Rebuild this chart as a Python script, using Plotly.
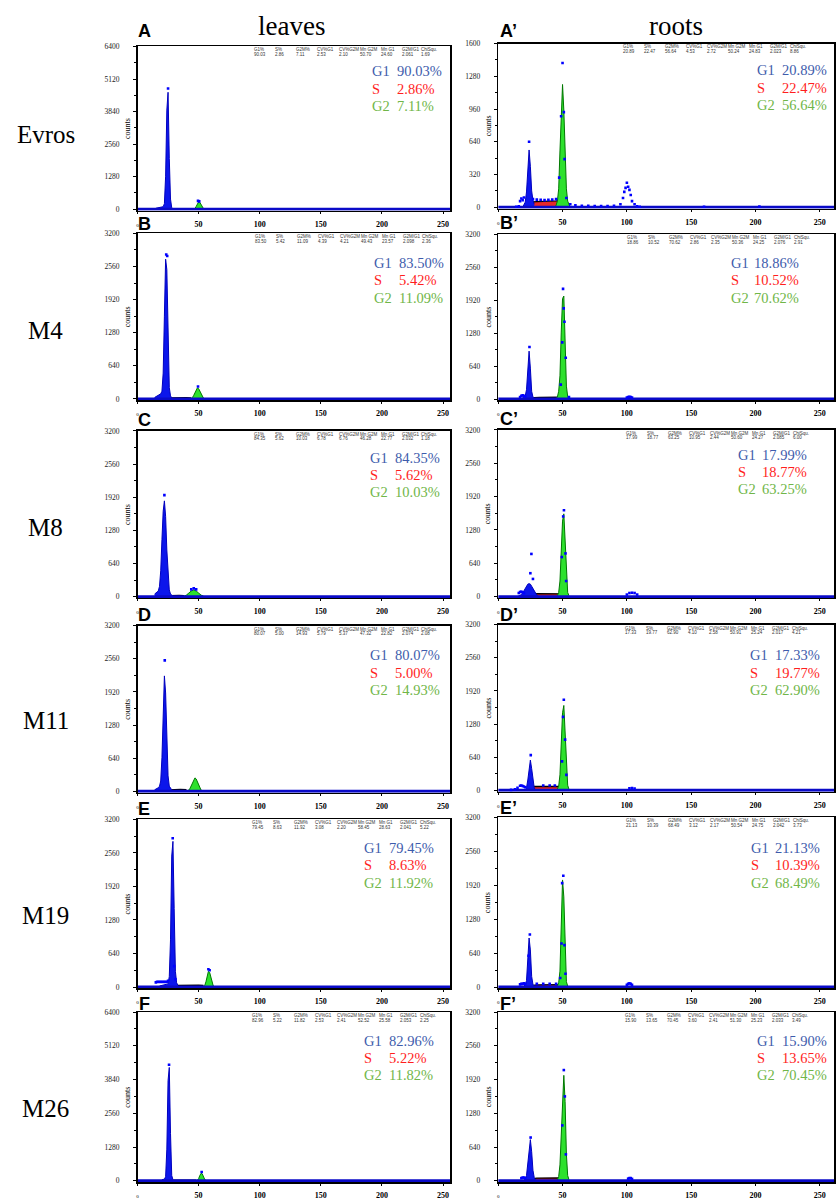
import plotly.graph_objects as go

W, H = 836, 1200

# ---------------- text / categories ----------------
row_labels = ["Evros", "M4", "M8", "M11", "M19", "M26"]
col_titles = ["leaves", "roots"]
letters_left = ["A", "B", "C", "D", "E", "F"]
letters_right = ["A\u2019", "B\u2019", "C\u2019", "D\u2019", "E\u2019", "F\u2019"]
stat_headers = ["G1%", "S%", "G2M%", "CV%G1", "CV%G2M", "Mn G2M", "Mn G1", "G2M/G1", "ChiSqu."]
x_tick_vals = [0, 50, 100, 150, 200, 250]
ymax_left = [6400, 3200, 3200, 3200, 3200, 6400]
ymax_right = [1600, 3200, 3200, 3200, 3200, 3200]

# ---------------- stats table values (per panel) ----------------
stats_A = ["90.03", "2.86", "7.11", "2.53", "2.10", "50.70", "24.60", "2.061", "1.69"]
stats_B = ["83.50", "5.42", "11.09", "4.39", "4.21", "49.43", "23.57", "2.098", "2.36"]
stats_C = ["84.35", "5.62", "10.03", "6.78", "6.76", "46.28", "22.77", "2.032", "1.18"]
stats_D = ["80.07", "5.00", "14.93", "5.79", "5.37", "47.32", "22.82", "2.074", "2.08"]
stats_E = ["79.45", "8.63", "11.92", "3.08", "2.20", "58.45", "28.63", "2.041", "5.22"]
stats_F = ["82.96", "5.22", "11.82", "2.53", "2.41", "52.52", "25.58", "2.053", "2.25"]
stats_Ap = ["20.89", "22.47", "56.64", "4.53", "2.72", "50.24", "24.83", "2.023", "8.86"]
stats_Bp = ["18.86", "10.52", "70.62", "2.86", "2.35", "50.36", "24.25", "2.076", "2.91"]
stats_Cp = ["17.99", "18.77", "63.25", "10.95", "2.44", "50.60", "24.27", "2.085", "6.00"]
stats_Dp = ["17.33", "19.77", "62.90", "4.10", "2.58", "50.91", "25.24", "2.017", "4.21"]
stats_Ep = ["21.13", "10.39", "68.49", "3.12", "2.17", "50.54", "24.75", "2.042", "3.73"]
stats_Fp = ["15.90", "13.65", "70.45", "3.60", "2.41", "51.30", "25.23", "2.033", "3.49"]

# ---------------- histogram readings (channel, counts) ----------------
floor_ch = [0, 262]
floor_n = [0, 0]

# A  leaves Evros
A_g1_ch = [15, 18, 20, 21, 22, 23, 24, 25, 26, 27, 28, 29]
A_g1_n = [40, 80, 90, 100, 220, 1300, 3900, 4600, 2000, 400, 60, 20]
A_s_ch = [26, 30, 35, 40, 45, 48]
A_s_n = [15, 20, 20, 20, 20, 15]
A_g2_ch = [46, 47, 48, 49, 50, 51, 52, 53, 54, 55]
A_g2_n = [10, 30, 110, 230, 290, 270, 180, 80, 25, 5]
A_dot_ch = [25, 49.5, 50.5]
A_dot_n = [4750, 330, 310]

# B  leaves M4
B_g1_ch = [14, 16, 18, 19, 20, 21, 22, 23, 24, 25, 26, 27, 28]
B_g1_n = [30, 60, 80, 100, 150, 500, 1600, 2700, 2500, 900, 220, 60, 20]
B_s_ch = [26, 30, 35, 40, 44]
B_s_n = [20, 25, 25, 25, 20]
B_g2_ch = [44, 45, 46, 47, 48, 49, 50, 51, 52, 53, 54, 55]
B_g2_n = [10, 30, 70, 130, 190, 215, 200, 150, 90, 40, 15, 5]
B_dot_ch = [23.5, 24.3, 49.5]
B_dot_n = [2790, 2760, 240]

# C  leaves M8
C_g1_ch = [14, 16, 17, 18, 19, 20, 21, 22, 23, 24, 25, 26, 27, 28, 29]
C_g1_n = [50, 80, 110, 200, 500, 1100, 1650, 1850, 1550, 900, 380, 130, 50, 25, 10]
C_s_ch = [27, 30, 34, 38]
C_s_n = [20, 25, 25, 20]
C_g2_ch = [38, 40, 42, 44, 46, 48, 50, 52, 54]
C_g2_n = [10, 30, 70, 110, 130, 110, 70, 30, 10]
C_dot_ch = [22, 44, 46, 48]
C_dot_n = [1960, 140, 160, 140]

# D  leaves M11
D_g1_ch = [14, 16, 17, 18, 19, 20, 21, 22, 23, 24, 25, 26, 27, 28]
D_g1_n = [30, 50, 70, 100, 200, 650, 1550, 2230, 1900, 900, 300, 100, 50, 30]
D_s_ch = [26, 30, 35, 40]
D_s_n = [30, 40, 40, 35]
D_g2_ch = [41, 42, 43, 44, 45, 46, 47, 48, 49, 50, 51, 52, 53]
D_g2_n = [10, 25, 60, 110, 170, 230, 260, 240, 190, 120, 60, 25, 10]
D_dot_ch = [22.3]
D_dot_n = [2530]

# E  leaves M19
E_g1_ch = [18, 20, 22, 24, 25, 26, 27, 28, 29, 30, 31, 32, 33]
E_g1_n = [20, 30, 40, 50, 60, 200, 900, 2500, 2780, 1500, 300, 80, 40]
E_s_ch = [32, 38, 44, 50, 54]
E_s_n = [30, 35, 35, 35, 30]
E_g2_ch = [54, 55, 56, 57, 58, 59, 60, 61, 62, 63]
E_g2_n = [10, 30, 100, 220, 300, 280, 180, 70, 20, 5]
E_dot_ch = [15, 16, 17, 18, 19, 20, 21, 22, 23, 24, 25, 28.8, 30, 31, 58, 59]
E_dot_n = [90, 100, 95, 100, 95, 100, 95, 100, 95, 100, 120, 2840, 400, 150, 340, 320]

# F  leaves M26
F_g1_ch = [20, 22, 23, 24, 25, 26, 27, 28, 29]
F_g1_n = [40, 60, 150, 1200, 3800, 4300, 1800, 200, 40]
F_s_ch = [28, 35, 42, 48]
F_s_n = [20, 25, 25, 20]
F_g2_ch = [49, 50, 51, 52, 53, 54, 55, 56]
F_g2_n = [20, 80, 200, 280, 260, 150, 50, 10]
F_dot_ch = [25.8, 52.5]
F_dot_n = [4400, 330]

# A'  roots Evros
Ap_g1_ch = [19, 20, 21, 22, 23, 24, 25, 26, 27, 28]
Ap_g1_n = [0, 20, 50, 150, 350, 560, 400, 160, 70, 30]
Ap_s_ch = [21, 23, 25, 27, 30, 35, 40, 45, 48, 50, 52, 54]
Ap_s_n = [0, 10, 35, 52, 55, 55, 58, 62, 65, 55, 25, 0]
Ap_g2_ch = [44, 45, 46, 47, 48, 49, 50, 51, 52, 53, 54, 55, 56]
Ap_g2_n = [0, 20, 60, 180, 550, 1000, 1200, 950, 500, 180, 60, 20, 0]
Ap_dot_ch = [14, 16, 17, 18, 19, 20, 24, 27, 30, 33, 36, 39, 42, 45, 47.4, 48.9, 50, 51, 51.6, 53,
             56, 60, 65, 70, 75, 80, 85, 90, 95, 97, 98, 99, 100, 101, 102, 103, 104, 106, 108, 110, 160, 203]
Ap_dot_n = [5, 10, 60, 85, 70, 95, 640, 80, 75, 72, 70, 72, 75, 80, 290, 890, 1410, 930, 470, 90,
            30, 20, 15, 15, 12, 12, 12, 15, 30, 90, 150, 190, 240, 200, 170, 120, 60, 30, 10, 5, 5, 8]

# B'  roots M4
Bp_g1_ch = [19, 20, 21, 22, 23, 24, 25, 26, 27, 28]
Bp_g1_n = [30, 40, 60, 180, 620, 930, 600, 150, 40, 20]
Bp_s_ch = [25, 28, 32, 36, 40, 44, 47, 49]
Bp_s_n = [0, 25, 30, 30, 30, 32, 35, 0]
Bp_g2_ch = [45, 46, 47, 48, 49, 50, 51, 52, 53, 54, 55]
Bp_g2_n = [10, 40, 150, 450, 1300, 1950, 2000, 1000, 250, 50, 10]
Bp_dot_ch = [17, 18, 19, 20, 21, 24.3, 48.6, 49.8, 50.4, 50.9, 51.5, 52.5, 55, 100, 101, 102, 103, 104]
Bp_dot_n = [40, 60, 70, 60, 50, 1010, 280, 1100, 2140, 1760, 1500, 800, 40, 30, 40, 45, 40, 30]

# C'  roots M8
Cp_g1_ch = [15, 17, 18, 19, 20, 21, 22, 23, 24, 25, 26, 27, 28, 29, 30, 31, 32]
Cp_g1_n = [0, 20, 40, 70, 110, 160, 210, 240, 250, 240, 200, 150, 100, 60, 30, 10, 0]
Cp_s_ch = [20, 24, 27, 30, 35, 40, 45, 48, 50, 52, 54]
Cp_s_n = [0, 30, 55, 60, 60, 60, 62, 65, 55, 25, 0]
Cp_g2_ch = [46, 47, 48, 49, 50, 51, 52, 53, 54, 55]
Cp_g2_n = [20, 80, 300, 850, 1450, 1590, 1000, 350, 80, 20]
Cp_dot_ch = [16, 17, 18, 19, 20, 25, 25.8, 27, 49.4, 50.5, 51.1, 52.3, 52.8, 100, 102, 104, 106, 108]
Cp_dot_n = [70, 90, 95, 85, 70, 450, 820, 340, 760, 1540, 1660, 830, 300, 40, 70, 75, 70, 40]

# D'  roots M11
Dp_g1_ch = [21, 22, 23, 24, 25, 26, 27, 28, 29]
Dp_g1_n = [0, 50, 200, 450, 585, 420, 160, 50, 0]
Dp_s_ch = [22, 24, 26, 28, 32, 36, 40, 44, 47, 49, 51, 53]
Dp_s_n = [0, 30, 60, 75, 78, 80, 82, 85, 88, 75, 35, 0]
Dp_g2_ch = [46, 47, 48, 49, 50, 51, 52, 53, 54, 55]
Dp_g2_n = [30, 80, 300, 900, 1500, 1640, 1100, 400, 100, 20]
Dp_dot_ch = [10, 13, 15, 17, 18, 19, 20, 21, 25.3, 35, 40, 44, 49.6, 50.4, 51.0, 52.0, 53, 102, 104, 106]
Dp_dot_n = [10, 20, 50, 90, 95, 85, 75, 60, 680, 95, 95, 95, 560, 1420, 1750, 980, 300, 40, 45, 35]

# E'  roots M19
Ep_g1_ch = [20, 21, 22, 23, 24, 25, 26, 27, 28]
Ep_g1_n = [20, 40, 120, 500, 925, 700, 200, 50, 20]
Ep_s_ch = [24, 27, 30, 35, 40, 45, 47, 49, 51]
Ep_s_n = [0, 30, 38, 40, 40, 42, 45, 30, 0]
Ep_g2_ch = [46, 47, 48, 49, 50, 51, 52, 53, 54]
Ep_g2_n = [20, 80, 300, 1300, 2020, 1700, 600, 100, 20]
Ep_dot_ch = [17, 18, 19, 20, 21, 23.6, 24.6, 30, 35, 40, 45, 48.2, 49.2, 49.7, 50.6, 51.5, 52.3, 100, 101, 102, 103, 104]
Ep_dot_n = [50, 60, 60, 70, 60, 590, 990, 60, 60, 60, 60, 170, 820, 1960, 2100, 790, 250, 40, 60, 70, 60, 40]

# F'  roots M26
Fp_g1_ch = [20, 21, 22, 23, 24, 25, 26, 27, 28, 29]
Fp_g1_n = [20, 40, 100, 300, 600, 780, 550, 200, 60, 20]
Fp_s_ch = [24, 27, 30, 35, 40, 45, 48, 50, 52]
Fp_s_n = [0, 40, 50, 50, 50, 52, 55, 30, 0]
Fp_g2_ch = [46, 47, 48, 49, 50, 51, 52, 53, 54, 55]
Fp_g2_n = [20, 80, 300, 1000, 1700, 2000, 1500, 500, 100, 20]
Fp_dot_ch = [18, 19, 20, 21, 25.2, 49.8, 51, 51.8, 52.6, 101, 102, 103, 104]
Fp_dot_n = [50, 60, 60, 50, 820, 1050, 2100, 1600, 500, 40, 50, 50, 35]

# ---------------- assemble panel table ----------------
left_panels = [
    (A_g1_ch, A_g1_n, A_s_ch, A_s_n, A_g2_ch, A_g2_n, A_dot_ch, A_dot_n, stats_A),
    (B_g1_ch, B_g1_n, B_s_ch, B_s_n, B_g2_ch, B_g2_n, B_dot_ch, B_dot_n, stats_B),
    (C_g1_ch, C_g1_n, C_s_ch, C_s_n, C_g2_ch, C_g2_n, C_dot_ch, C_dot_n, stats_C),
    (D_g1_ch, D_g1_n, D_s_ch, D_s_n, D_g2_ch, D_g2_n, D_dot_ch, D_dot_n, stats_D),
    (E_g1_ch, E_g1_n, E_s_ch, E_s_n, E_g2_ch, E_g2_n, E_dot_ch, E_dot_n, stats_E),
    (F_g1_ch, F_g1_n, F_s_ch, F_s_n, F_g2_ch, F_g2_n, F_dot_ch, F_dot_n, stats_F),
]
right_panels = [
    (Ap_g1_ch, Ap_g1_n, Ap_s_ch, Ap_s_n, Ap_g2_ch, Ap_g2_n, Ap_dot_ch, Ap_dot_n, stats_Ap),
    (Bp_g1_ch, Bp_g1_n, Bp_s_ch, Bp_s_n, Bp_g2_ch, Bp_g2_n, Bp_dot_ch, Bp_dot_n, stats_Bp),
    (Cp_g1_ch, Cp_g1_n, Cp_s_ch, Cp_s_n, Cp_g2_ch, Cp_g2_n, Cp_dot_ch, Cp_dot_n, stats_Cp),
    (Dp_g1_ch, Dp_g1_n, Dp_s_ch, Dp_s_n, Dp_g2_ch, Dp_g2_n, Dp_dot_ch, Dp_dot_n, stats_Dp),
    (Ep_g1_ch, Ep_g1_n, Ep_s_ch, Ep_s_n, Ep_g2_ch, Ep_g2_n, Ep_dot_ch, Ep_dot_n, stats_Ep),
    (Fp_g1_ch, Fp_g1_n, Fp_s_ch, Fp_s_n, Fp_g2_ch, Fp_g2_n, Fp_dot_ch, Fp_dot_n, stats_Fp),
]

# ---------------- layout geometry (pixels) ----------------
LEFT_X = (137, 451)
RIGHT_X = (499, 836)
rows_left = [(43, 209), (232, 401), (432, 601), (629, 798), (825, 996), (1020, 1192)]
rows_right = [(40, 207), (233, 401), (431, 601), (628, 797), (823, 996), (1020, 1192)]
xmax_left, xmax_right = 256, 261

pct_lab_x_left = [370, 372, 368, 368, 362, 362]
pct_val_x_left = [395, 397, 393, 393, 387, 387]
pct_y_left = [68, 262, 459, 659, 854, 1049]
pct_lab_x_right = [757, 731, 738, 750, 751, 757]
pct_val_x_right = [782, 754, 762, 775, 775, 782]
pct_y_right = [67, 262, 456, 659, 854, 1049]
stat_x_left = [252, 253, 252, 252, 250, 250]
stat_x_right = [622, 626, 625, 624, 625, 624]
stat_dx = [0, 21, 42, 63, 85, 106, 127, 148, 168]
letter_y_left = [27, 223, 421, 618, 815, 1012]
letter_y_right = [27, 222, 420, 618, 813, 1012]
row_label_y = [132, 330, 530, 725, 922, 1118]

SERIF = "Liberation Serif, Times New Roman, serif"
SANS = "Liberation Sans, Arial, sans-serif"
BLUE_FILL = "rgb(12,22,235)"
BLUE_LINE = "rgb(0,0,190)"
GREEN_FILL = "rgb(45,225,45)"
GREEN_LINE = "rgb(0,120,0)"
RED_FILL = "rgb(232,40,40)"
PCT_G1 = "rgb(62,92,172)"
PCT_S = "rgb(255,30,30)"
PCT_G2 = "rgb(112,182,72)"


def px(x):
    return x / W


def py(y):
    return 1 - y / H


fig = go.Figure()
annotations = []
layout_axes = {}


def add_panel(k, pdata, ymax, xmax, xdom, rows, pct_lab_x, pct_val_x, pct_y, stat_x0):
    g1c, g1n, sc, sn, g2c, g2n, dc, dn, st = pdata
    top, bottom = rows
    xa = "x" if k == 0 else f"x{k + 1}"
    ya = "y" if k == 0 else f"y{k + 1}"
    common = dict(xaxis=xa, yaxis=ya, hoverinfo="skip", showlegend=False)
    fig.add_trace(go.Scatter(x=sc, y=sn, mode="lines", fill="tozeroy", fillcolor=RED_FILL,
                             line=dict(color="black", width=1.3), **common))
    fig.add_trace(go.Scatter(x=g2c, y=g2n, mode="lines", fill="tozeroy", fillcolor=GREEN_FILL,
                             line=dict(color=GREEN_LINE, width=1), **common))
    fig.add_trace(go.Scatter(x=g1c, y=g1n, mode="lines", fill="tozeroy", fillcolor=BLUE_FILL,
                             line=dict(color=BLUE_LINE, width=1), **common))
    fig.add_trace(go.Scatter(x=floor_ch, y=floor_n, mode="lines",
                             line=dict(color="rgb(10,10,200)", width=3), **common))
    fig.add_trace(go.Scatter(x=dc, y=dn, mode="markers",
                             marker=dict(symbol="square", size=2.6, color="rgb(0,0,255)"), **common))

    xkey = "xaxis" if k == 0 else f"xaxis{k + 1}"
    ykey = "yaxis" if k == 0 else f"yaxis{k + 1}"
    step = ymax / 5
    layout_axes[xkey] = dict(
        domain=[px(xdom[0]), px(xdom[1])], anchor=ya, range=[0, xmax],
        showgrid=False, zeroline=False, showline=True, linecolor="black", linewidth=1.5, mirror=True,
        ticks="outside", ticklen=2, tickcolor="black",
        tickvals=x_tick_vals,
        ticktext=['<span style="font-size:5px">0</span>'] + [f"<b>{v}</b>" for v in x_tick_vals[1:]],
        tickfont=dict(family=SERIF, size=8, color="black"), ticklabelstandoff=3,
    )
    layout_axes[ykey] = dict(
        domain=[py(bottom), py(top)], anchor=xa, range=[-ymax * 0.008, ymax],
        showgrid=False, zeroline=False, showline=True, linecolor="black", linewidth=1.5, mirror=True,
        ticks="outside", ticklen=3, tickcolor="black",
        tickvals=[step * i for i in range(6)], ticktext=[str(int(step * i)) for i in range(6)],
        tickfont=dict(family=SERIF, size=7.5, color="#222"), ticklabelstandoff=12,
        minor=dict(ticks="outside", ticklen=2, dtick=step / 2, tickcolor="black"),
    )
    # "counts" label between tick labels and axis
    annotations.append(dict(x=px(xdom[0] - 10), y=py((top + bottom) / 2), xref="paper", yref="paper",
                            text="counts", textangle=-90, showarrow=False,
                            font=dict(family=SERIF, size=8, color="black"),
                            xanchor="center", yanchor="middle"))
    # stats table
    for j, hdr in enumerate(stat_headers):
        annotations.append(dict(x=px(stat_x0 + stat_dx[j]), y=py(top + 3.5), xref="paper", yref="paper",
                                text=hdr, showarrow=False, font=dict(family=SANS, size=4.5, color="#333"),
                                xanchor="left", yanchor="middle"))
        annotations.append(dict(x=px(stat_x0 + stat_dx[j]), y=py(top + 8), xref="paper", yref="paper",
                                text=st[j], showarrow=False, font=dict(family=SANS, size=4.5, color="#333"),
                                xanchor="left", yanchor="middle"))
    # phase percentages
    for i, (lab, col) in enumerate([("G1", PCT_G1), ("S", PCT_S), ("G2", PCT_G2)]):
        yy = pct_y + i * 17.5
        annotations.append(dict(x=px(pct_lab_x), y=py(yy), xref="paper", yref="paper", text=lab,
                                showarrow=False, font=dict(family=SERIF, size=14.5, color=col),
                                xanchor="left", yanchor="middle"))
        annotations.append(dict(x=px(pct_val_x), y=py(yy), xref="paper", yref="paper", text=st[i] + "%",
                                showarrow=False, font=dict(family=SERIF, size=14.5, color=col),
                                xanchor="left", yanchor="middle"))


for r in range(6):
    add_panel(2 * r, left_panels[r], ymax_left[r], xmax_left, LEFT_X, rows_left[r],
              pct_lab_x_left[r], pct_val_x_left[r], pct_y_left[r], stat_x_left[r])
    add_panel(2 * r + 1, right_panels[r], ymax_right[r], xmax_right, RIGHT_X, rows_right[r],
              pct_lab_x_right[r], pct_val_x_right[r], pct_y_right[r], stat_x_right[r])
    # panel letters
    annotations.append(dict(x=px(144), y=py(letter_y_left[r]), xref="paper", yref="paper",
                            text=f"<b>{letters_left[r]}</b>", showarrow=False,
                            font=dict(family=SANS, size=18, color="black"), xanchor="center", yanchor="middle"))
    annotations.append(dict(x=px(499), y=py(letter_y_right[r]), xref="paper", yref="paper",
                            text=f"<b>{letters_right[r]}</b>", showarrow=False,
                            font=dict(family=SANS, size=18, color="black"), xanchor="left", yanchor="middle"))
    # row label
    annotations.append(dict(x=px(45), y=py(row_label_y[r]), xref="paper", yref="paper",
                            text=row_labels[r], showarrow=False,
                            font=dict(family=SERIF, size=25, color="black"), xanchor="center", yanchor="middle"))

# column titles
annotations.append(dict(x=px(292), y=py(22), xref="paper", yref="paper", text=col_titles[0], showarrow=False,
                        font=dict(family=SERIF, size=27, color="black"), xanchor="center", yanchor="middle"))
annotations.append(dict(x=px(677), y=py(22), xref="paper", yref="paper", text=col_titles[1], showarrow=False,
                        font=dict(family=SERIF, size=27, color="black"), xanchor="center", yanchor="middle"))

fig.update_layout(
    width=W, height=H, autosize=False,
    margin=dict(l=0, r=0, t=0, b=0),
    paper_bgcolor="white", plot_bgcolor="white",
    showlegend=False,
    annotations=annotations,
    **layout_axes,
)

fig.write_html(
    "out.html",
    config={"displayModeBar": False, "staticPlot": True},
    post_script="document.body.style.margin='0';document.body.style.padding='0';"
                "document.body.style.overflow='hidden';",
)
